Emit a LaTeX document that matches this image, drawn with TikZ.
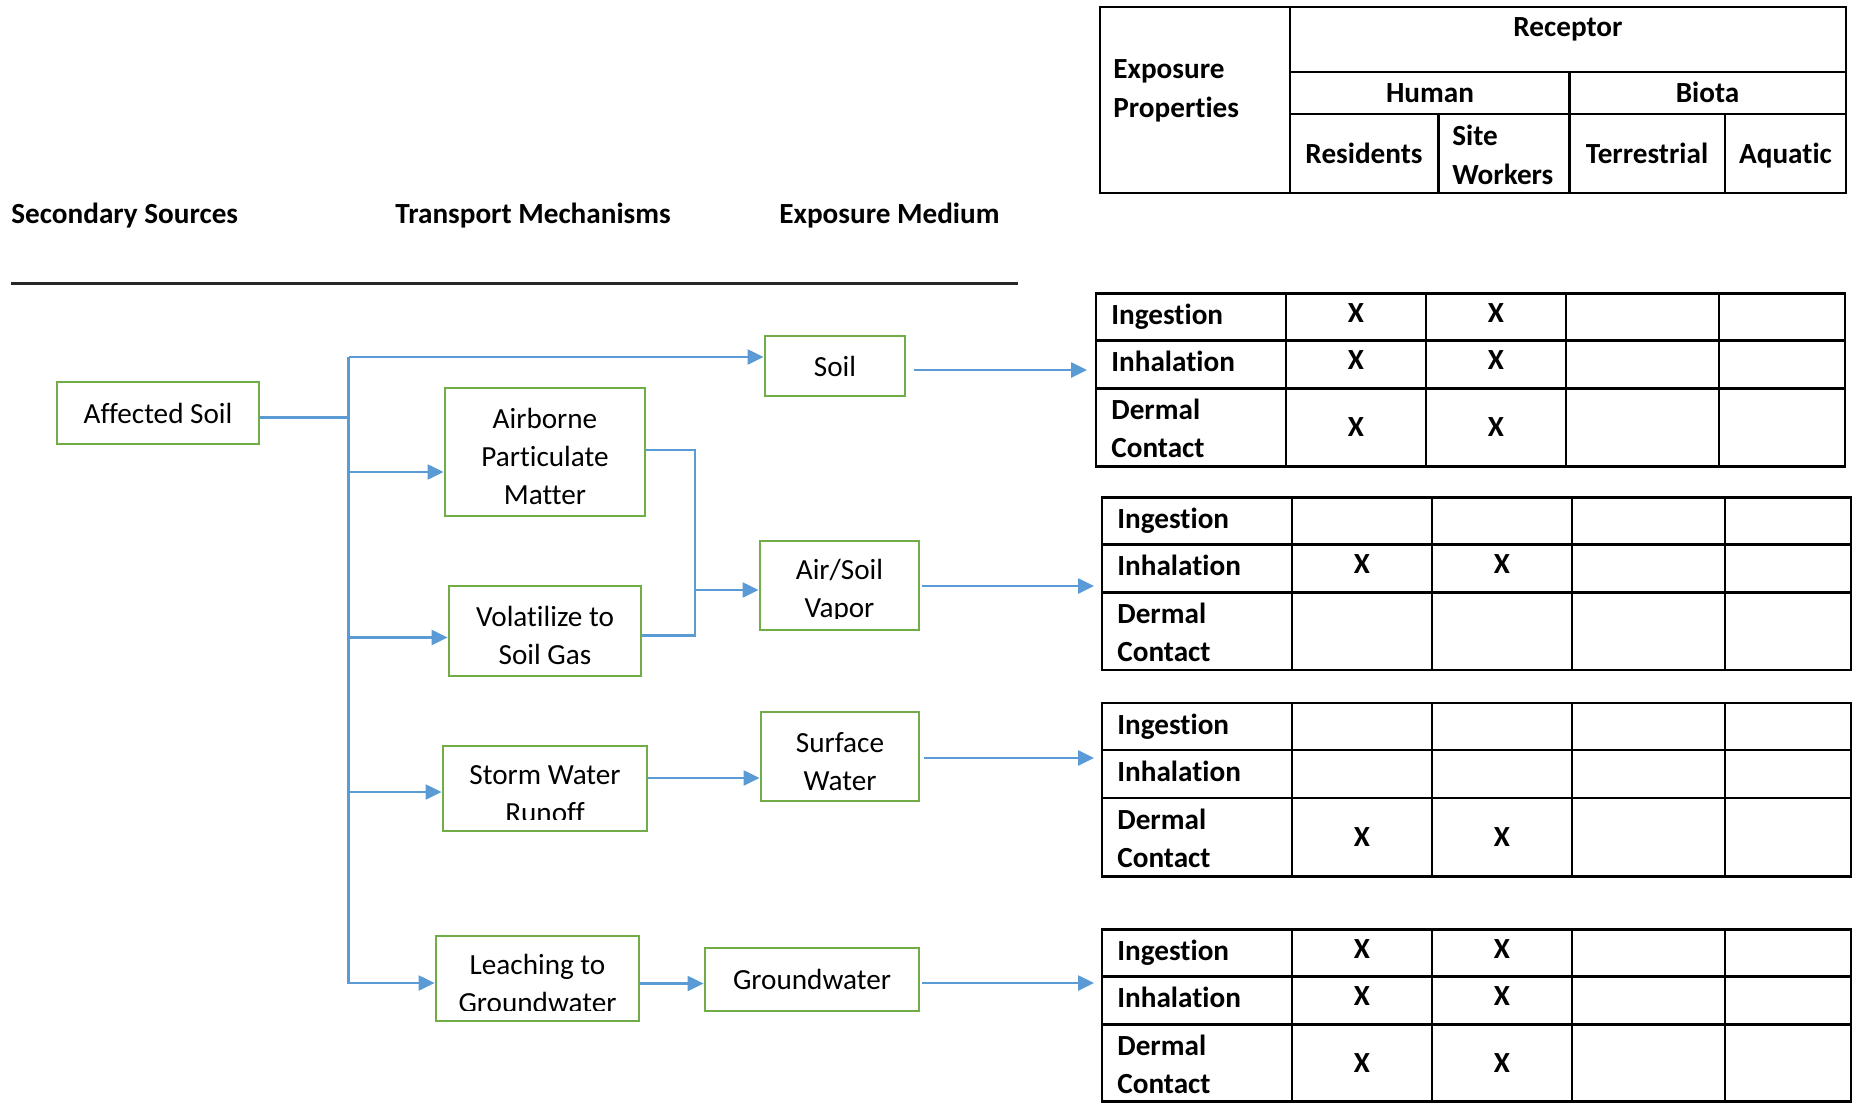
\documentclass[tikz,border=0pt]{standalone}
\usepackage{fontspec}
\setmainfont{Carlito}[Ligatures={NoCommon}]
\usetikzlibrary{arrows.meta}
\definecolor{boxgreen}{RGB}{112,173,71}
\definecolor{arrblue}{RGB}{91,155,213}
\newcommand\dn{\rule{0pt}{15pt}}
\newcommand\ExpTab[4]{%
  \node[tframe, sz={749}{#4}] (#1) at (#2,#3) {};
  \draw[tline] (#2,#3+47) -- ++(749,0) (#2,#3+95) -- ++(749,0)
    (#2+190,#3) -- ++(0,#4) (#2+330,#3) -- ++(0,#4)
    (#2+470,#3) -- ++(0,#4) (#2+623,#3) -- ++(0,#4);
  \node[hd] (#1-ing) at (#2+15,#3+31) {Ingestion};
  \node[hd] (#1-inh) at (#2+15,#3+78) {Inhalation};
  \node[hd] (#1-der) at (#2+15,#3+126) {Dermal};
  \node[hd] (#1-con) at (#2+15,#3+164) {Contact};
}
\newcommand\Xm[3]{\node[hd, anchor=base] (#1) at (#2,#3) {X};}
\begin{document}
\begin{tikzpicture}[x=0.5pt,y=-0.5pt,
  font=\fontsize{14.6}{19}\selectfont,
  box/.style={draw=boxgreen, line width=1.4pt, inner sep=0pt, align=center},
  sz/.style 2 args={minimum width=#1*0.5pt, minimum height=#2*0.5pt},
  ln/.style={draw=arrblue, line width=1.1pt},
  arr/.style={ln, -{Triangle[length=8pt,width=7.5pt]}},
  arrb/.style={arr, line width=1.3pt},
  tline/.style={line width=1.1pt, draw=black},
  tframe/.style={tline, inner sep=0pt, outer sep=0pt, anchor=north west},
  hd/.style={font=\fontsize{14.6}{19}\selectfont\bfseries, inner sep=0pt, anchor=base west},
]
\useasboundingbox (0,0) rectangle (1865,1103);

% column headings
\node[hd] (secsrc) at (11,223) {Secondary Sources};
\node[hd] (trmech) at (395,223) {Transport Mechanisms};
\node[hd] (expmed) at (779,223) {Exposure Medium};
\draw[line width=1.5pt, black!85] (11,283) -- (1018,283);

% header table
\node[tframe, sz={746}{186}] (hdr) at (1100,7) {};
\draw[tline] (1290,7) -- (1290,193)
  (1290,72) -- (1846,72) (1290,114) -- (1846,114)
  (1569.5,72) -- (1569.5,193) (1438.5,114) -- (1438.5,193) (1725,114) -- (1725,193);
\node[hd, anchor=base] (h-rec) at (1568,36.5) {Receptor};
\node[hd, anchor=base] (h-hum) at (1430,102.5) {Human};
\node[hd, anchor=base] (h-bio) at (1707.5,102.5) {Biota};
\node[hd, anchor=base] (h-res) at (1364,163.5) {Residents};
\node[hd] (h-site) at (1452,145) {Site};
\node[hd] (h-wrk) at (1452,184) {Workers};
\node[hd, anchor=base] (h-ter) at (1647,163.5) {Terrestrial};
\node[hd, anchor=base] (h-aq) at (1785.5,163.5) {Aquatic};
\node[hd] (h-exp) at (1113,78.5) {Exposure};
\node[hd] (h-prop) at (1113,117) {Properties};

% exposure tables
\ExpTab{tab1}{1096}{293.5}{173}
\ExpTab{tab2}{1102}{497.5}{172.5}
\ExpTab{tab3}{1102}{703}{173.5}
\ExpTab{tab4}{1102}{929.5}{172}
\Xm{x11}{1356}{322.5}\Xm{x12}{1496}{322.5}
\Xm{x13}{1356}{369.5}\Xm{x14}{1496}{369.5}
\Xm{x15}{1356}{436.5}\Xm{x16}{1496}{436.5}
\Xm{x21}{1362}{573.5}\Xm{x22}{1502}{573.5}
\Xm{x31}{1362}{846}\Xm{x32}{1502}{846}
\Xm{x41}{1362}{958.5}\Xm{x42}{1502}{958.5}
\Xm{x43}{1362}{1005.5}\Xm{x44}{1502}{1005.5}
\Xm{x45}{1362}{1072.5}\Xm{x46}{1502}{1072.5}

% flow boxes
\node[box, sz={202}{62}] (aff) at (158,413) {Affected Soil};
\node[box, sz={140}{60}] (soil) at (835,366) {Soil};
\node[box, sz={200}{128}] (apm) at (545,452) {\dn Airborne\\Particulate\\Matter};
\node[box, sz={192}{90}] (vol) at (545,631) {\dn Volatilize to\\Soil Gas};
\node[box, sz={159}{89}] (asv) at (839.5,585.5) {\dn Air/Soil\\Vapor};
\node[box, sz={204}{85}] (swr) at (545,788.5) {\dn Storm Water\\Runoff};
\node[box, sz={158}{89}] (sw) at (840,756.5) {\dn Surface\\Water};
\node[box, sz={203}{85}] (ltg) at (537.5,978.5) {\dn Leaching to\\Groundwater};
\node[box, sz={214}{63}] (gw) at (812,979.5) {Groundwater};
% text clipped at the bottom of the boxes
\fill[white] ([xshift=1.5pt,yshift=1.5pt]asv.south west) rectangle ([xshift=-1.5pt,yshift=6pt]asv.south east);
\fill[white] ([xshift=1.5pt,yshift=1.5pt]swr.south west) rectangle ([xshift=-1.5pt,yshift=6pt]swr.south east);
\fill[white] ([xshift=1.5pt,yshift=1.5pt]ltg.south west) rectangle ([xshift=-1.5pt,yshift=5.8pt]ltg.south east);

% connectors
\coordinate (tTop) at (348.5,357);
\coordinate (tAff) at (348.5,417.5);
\coordinate (tBot) at (348.5,983);
\coordinate (bApm) at (348.5,472);
\coordinate (bVol) at (348.5,637.5);
\coordinate (bSwr) at (348.5,792);
\coordinate (brT) at (695,450);
\coordinate (brB) at (695,635.5);
\coordinate (brM) at (695,590);
\draw[ln] (aff.east |- tAff) -- (tAff);
\draw[arr] (tTop) -- (tTop -| soil.west);
\draw[arr] (tTop) -- (tBot) -- (tBot -| ltg.west);
\draw[arr] (bApm) -- (bApm -| apm.west);
\draw[arr] (bVol) -- (bVol -| vol.west);
\draw[arr] (bSwr) -- (bSwr -| swr.west);
\draw[ln] (apm.east |- brT) -- (brT) -- (brB) -- (vol.east |- brB);
\draw[arr] (brM) -- (brM -| asv.west);
\draw[arr] (swr.east |- 0,778) -- (sw.west |- 0,778);
\draw[arr] (ltg.east |- 0,983.5) -- (gw.west |- 0,983.5);
\draw[arrb, shorten <=4pt, shorten >=4.5pt] (soil.east |- 0,370) -- (tab1.west |- 0,370);
\draw[arrb, shorten <=1pt, shorten >=4pt] (asv.east |- 0,586) -- (tab2.west |- 0,586);
\draw[arrb, shorten <=2pt, shorten >=4pt] (sw.east |- 0,758) -- (tab3.west |- 0,758);
\draw[arrb, shorten <=1pt, shorten >=4pt] (gw.east |- 0,983) -- (tab4.west |- 0,983);
\end{tikzpicture}
\end{document}
